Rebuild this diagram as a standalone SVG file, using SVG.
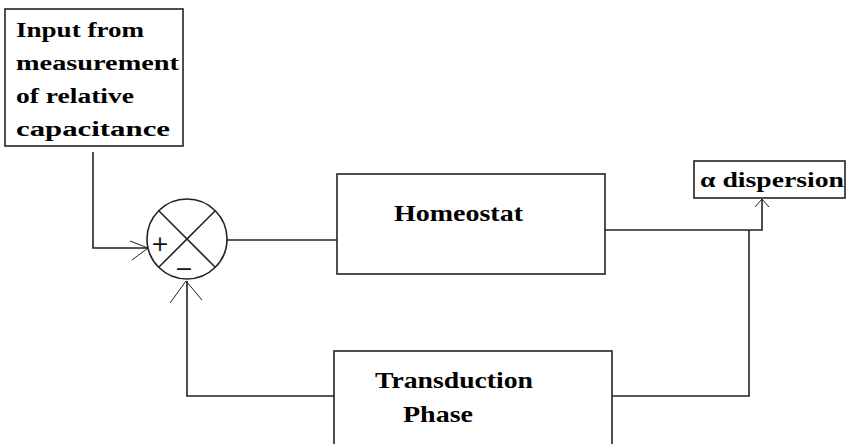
<svg xmlns="http://www.w3.org/2000/svg" width="846" height="444" viewBox="0 0 846 444">
<style>
.box{fill:#fff;stroke:#222;stroke-width:1.6}
.ln{fill:none;stroke:#222;stroke-width:1.6}
.ah{fill:none;stroke:#222;stroke-width:1}
.t{font-family:"Liberation Serif","Times New Roman",serif;font-weight:bold;fill:#000}
.s{font-size:20px}
.m{font-size:24px}
.sym{font-family:"DejaVu Sans","Liberation Sans",sans-serif;font-size:22px;fill:#111}
</style>
<rect width="846" height="444" fill="#fff"/>
<g id="connectors">
<polyline class="ln" points="93,152 93,248 148,248"/>
<polyline class="ah" points="130,241 148,248 132,260"/>
<line class="ln" x1="227" y1="240" x2="337" y2="240"/>
<polyline class="ln" points="605,230 762,230 762,199"/>
<polyline class="ah" points="755,207 762,199 769,207"/>
<polyline class="ln" points="612,396 749,396 749,230"/>
<polyline class="ln" points="334,396 187,396 187,281"/>
<polyline class="ah" points="170,303 186,281 202,300"/>
</g>
<g id="input">
<rect class="box" x="5" y="9" width="178" height="137"/>
<text class="t s" x="16" y="37" textLength="128" lengthAdjust="spacingAndGlyphs">Input from</text>
<text class="t s" x="16" y="70" textLength="163" lengthAdjust="spacingAndGlyphs">measurement</text>
<text class="t s" x="16" y="103" textLength="118" lengthAdjust="spacingAndGlyphs">of relative</text>
<text class="t s" x="16" y="136" textLength="154" lengthAdjust="spacingAndGlyphs">capacitance</text>
</g>
<g id="summer">
<circle class="ln" cx="187" cy="239" r="40"/>
<line class="ln" x1="159" y1="211" x2="215" y2="267"/>
<line class="ln" x1="215" y1="211" x2="159" y2="267"/>
<text class="sym" x="160" y="251" text-anchor="middle">+</text>
<text class="sym" x="184" y="276" text-anchor="middle">−</text>
</g>
<g id="homeostat">
<rect class="box" x="337" y="174" width="268" height="100"/>
<text class="t m" x="394" y="221" textLength="129" lengthAdjust="spacingAndGlyphs">Homeostat</text>
</g>
<g id="transduction">
<rect class="box" x="334" y="351" width="278" height="100"/>
<text class="t m" x="375" y="388" textLength="158" lengthAdjust="spacingAndGlyphs">Transduction</text>
<text class="t m" x="403" y="422" textLength="70" lengthAdjust="spacingAndGlyphs">Phase</text>
</g>
<g id="dispersion">
<rect class="box" x="694" y="161" width="151" height="37"/>
<text class="t s" x="700" y="187" textLength="144" lengthAdjust="spacingAndGlyphs">α dispersion</text>
</g>
</svg>
